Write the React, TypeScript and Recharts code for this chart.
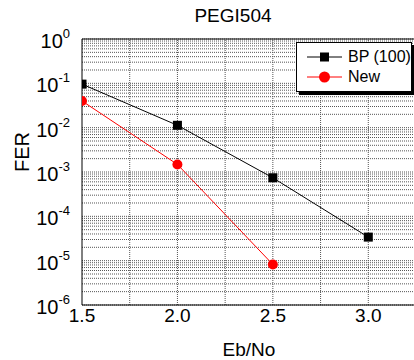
import { LineChart, Line, XAxis, YAxis, ReferenceLine } from "recharts";

const ebNo = [1.5, 2.0, 2.5, 3.0];
const bpFer = [0.096, 0.0113, 0.00074, 0.000034];
const newFer = [0.04, 0.00148, 0.0000082];

const xTicks = [1.5, 2.0, 2.5, 3.0];
const xGrid = [1.75, 2.0, 2.25, 2.5, 2.75, 3.0, 3.25];
const decades = [-6, -5, -4, -3, -2, -1, 0];
const minorMult = [2, 3, 4, 5, 6, 7, 8, 9];

const bpData = bpFer.map((v, i) => ({ x: ebNo[i], y: v }));
const newData = newFer.map((v, i) => ({ x: ebNo[i], y: v }));
const yTicks = decades.map((d) => Math.pow(10, d));
const minorY = decades.slice(0, -1).flatMap((d) => minorMult.map((m) => m * Math.pow(10, d)));

const font = "'Liberation Sans', Arial, sans-serif";
const gridStroke = "#555";
const plotLeft = 82;

function YTick(props: any) {
  const { x, y, payload } = props;
  const exp = Math.round(Math.log10(payload.value));
  return (
    <text x={x - 4} y={y + 9} textAnchor="end" fontFamily={font} fontSize={20} fill="#000">
      10
      <tspan dy={-10} fontSize={13}>{exp}</tspan>
    </text>
  );
}

function XTick(props: any) {
  const { x, y, payload } = props;
  return (
    <text x={x} y={y + 9} textAnchor="middle" fontFamily={font} fontSize={19} fill="#000">
      {payload.value.toFixed(1)}
    </text>
  );
}

// markers are cut off at the left frame, like in the original plot
function Square(props: any) {
  const { cx, cy } = props;
  if (cx == null || cy == null) return null;
  const x0 = Math.max(cx - 4.5, plotLeft);
  return <rect x={x0} y={cy - 4.5} width={cx + 4.5 - x0} height={9} fill="#000" />;
}

function Dot(props: any) {
  const { cx, cy } = props;
  if (cx == null || cy == null) return null;
  if (cx - 5 < plotLeft) {
    const h = Math.sqrt(Math.max(25 - (plotLeft - cx) ** 2, 0));
    return (
      <path
        d={`M${plotLeft},${cy - h} A5,5 0 1,1 ${plotLeft},${cy + h} Z`}
        fill="#ff0000"
      />
    );
  }
  return <circle cx={cx} cy={cy} r={5} fill="#ff0000" />;
}

function LegendBox() {
  const rows = [
    { label: "BP (100)", color: "#000", shape: "square" },
    { label: "New", color: "#ff0000", shape: "circle" },
  ];
  return (
    <div
      style={{
        position: "absolute",
        left: 296,
        top: 42,
        width: 116,
        height: 50,
        background: "#fff",
        border: "1px solid #000",
        boxShadow: "3px 3px 0 #000",
        fontFamily: font,
        fontSize: 16,
        paddingTop: 4,
        boxSizing: "border-box",
        whiteSpace: "nowrap",
      }}
    >
      {rows.map((r) => (
        <div key={r.label} style={{ display: "flex", alignItems: "center", height: 20 }}>
          <svg width={36} height={20} style={{ marginLeft: 10, flexShrink: 0 }}>
            <line x1={0} y1={10} x2={35} y2={10} stroke={r.color} strokeWidth={1} />
            {r.shape === "square" ? (
              <rect x={13} y={5.5} width={9} height={9} fill={r.color} />
            ) : (
              <circle cx={17.5} cy={10} r={5.5} fill={r.color} />
            )}
          </svg>
          <span style={{ marginLeft: 5 }}>{r.label}</span>
        </div>
      ))}
    </div>
  );
}

export default function App() {
  return (
    <div style={{ position: "absolute", left: 0, top: 0, width: 414, height: 360, overflow: "hidden", background: "#fff" }}>
      <div
        style={{
          position: "absolute",
          left: 0,
          width: 466,
          top: 5,
          textAlign: "center",
          fontFamily: font,
          fontSize: 19,
        }}
      >
        PEGI504
      </div>
      <LineChart width={420} height={360} margin={{ top: 39, right: 4, bottom: 0, left: 0 }}>
        <XAxis
          type="number"
          dataKey="x"
          domain={[1.5, 3.25]}
          ticks={xTicks}
          allowDataOverflow
          height={55}
          tick={<XTick />}
          tickLine={false}
          axisLine={false}
          label={{ value: "Eb/No", position: "insideBottom", offset: 4, fontFamily: font, fontSize: 19, fill: "#000" }}
        />
        <YAxis
          type="number"
          scale="log"
          domain={[1e-6, 1]}
          ticks={yTicks}
          allowDataOverflow
          width={plotLeft}
          tick={<YTick />}
          tickLine={false}
          axisLine={false}
          label={{ value: "FER", angle: -90, position: "insideLeft", offset: 22, fontFamily: font, fontSize: 20, fill: "#000" }}
        />
        {minorY.map((v) => (
          <ReferenceLine key={"m" + v} y={v} stroke={gridStroke} strokeDasharray="1 1" />
        ))}
        {yTicks.map((v) => (
          <ReferenceLine key={"d" + v} y={v} stroke={gridStroke} strokeDasharray="1 1" />
        ))}
        {xGrid.map((v) => (
          <ReferenceLine key={"x" + v} x={v} stroke={gridStroke} strokeDasharray="1 1" />
        ))}
        <ReferenceLine y={1} stroke="#000" />
        <ReferenceLine y={1e-6} stroke="#000" />
        <ReferenceLine x={1.5} stroke="#000" />
        <Line data={bpData} dataKey="y" stroke="#000" strokeWidth={1} dot={<Square />} isAnimationActive={false} />
        <Line data={newData} dataKey="y" stroke="#ff0000" strokeWidth={1} dot={<Dot />} isAnimationActive={false} />
      </LineChart>
      <LegendBox />
    </div>
  );
}
